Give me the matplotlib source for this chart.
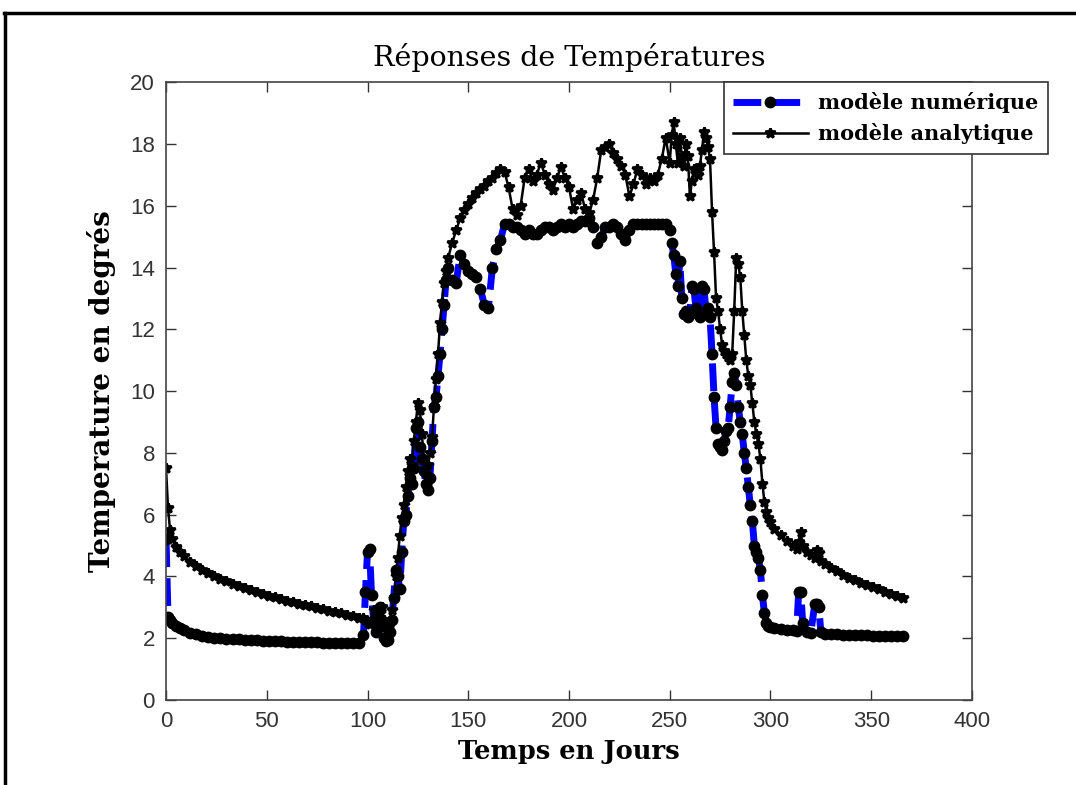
import matplotlib.pyplot as plt
from matplotlib.lines import Line2D

# jours (grille commune aux deux modeles)
days = [0, 1, 2, 3, 5, 7, 9, 12, 15, 18, 21, 24, 27, 30, 33, 36, 39, 42, 45, 48,
        51, 54, 57, 60, 63, 66, 69, 72, 75, 78, 81, 84, 87, 90, 93, 96,
        98, 99, 100, 101, 102, 103, 104, 105, 106, 107, 108, 109, 110, 111, 112,
        113, 114, 115, 116, 117, 118, 119, 120, 121, 122, 123, 124, 125, 126,
        127, 128, 129, 130, 131, 132, 133, 134, 135, 136, 137, 138, 139, 140,
        142, 144, 146, 148, 150, 152, 154, 156, 158, 160, 162, 164, 166, 168,
        170, 172, 174, 176, 178, 180, 182, 184, 186, 188, 190, 192, 194, 196,
        198, 200, 202, 204, 206, 208, 210, 212, 214, 216, 218, 220, 222, 224,
        226, 228, 230, 232, 234, 236, 238, 240, 242, 244, 246, 248, 250,
        251, 252, 253, 254, 255, 256, 257, 258, 259, 260, 261, 262, 263, 264,
        265, 266, 267, 268, 269, 270, 271, 272, 273, 274, 275, 276, 277, 278,
        279, 280, 281, 282, 283, 284, 285, 286, 287, 288, 289, 290, 291, 292,
        293, 294, 295, 296, 297, 298, 299, 300,
        302, 305, 308, 311, 313, 314, 315, 316, 318, 320, 322, 323, 324, 325,
        327, 330, 333, 336, 339, 342, 345, 348, 351, 354, 357, 360, 363, 366]

temp_num = [5.2, 2.7, 2.6, 2.5, 2.4, 2.32, 2.25, 2.18, 2.12, 2.08, 2.05, 2.02, 2.0, 1.98, 1.97, 1.96, 1.95, 1.94, 1.93, 1.92,
            1.91, 1.9, 1.9, 1.89, 1.89, 1.88, 1.88, 1.87, 1.87, 1.86, 1.86, 1.85, 1.85, 1.85, 1.85, 1.86,
            2.1, 3.5, 4.8, 4.9, 3.4, 2.6, 2.2, 2.9, 3.0, 2.4, 2.0, 1.9, 1.95, 2.2, 2.6,
            3.3, 4.2, 4.0, 3.6, 4.8, 5.8, 6.0, 6.6, 7.2, 7.0, 7.5, 8.8, 9.0, 8.2,
            7.8, 7.4, 7.0, 6.8, 7.2, 8.4, 9.5, 9.8, 10.5, 11.2, 12.0, 12.8, 13.6, 14.0,
            13.6, 13.5, 14.4, 14.1, 13.9, 13.8, 13.7, 13.3, 12.8, 12.7, 14.0, 14.6, 14.9, 15.4,
            15.4, 15.3, 15.3, 15.2, 15.1, 15.2, 15.1, 15.1, 15.2, 15.3, 15.3, 15.2, 15.3, 15.4,
            15.3, 15.4, 15.3, 15.4, 15.5, 15.5, 15.6, 15.3, 14.8, 15.0, 15.3, 15.3, 15.4, 15.3,
            15.1, 14.9, 15.2, 15.4, 15.4, 15.4, 15.4, 15.4, 15.4, 15.4, 15.4, 15.4, 15.2,
            14.8, 14.4, 13.8, 13.4, 14.2, 13.0, 12.5, 12.6, 12.4, 12.5, 13.4, 13.3, 12.7, 12.5,
            12.4, 13.4, 13.3, 12.6, 12.7, 12.4, 11.2, 9.8, 8.8, 8.3, 8.2, 8.1, 8.4, 8.7,
            8.8, 9.5, 10.3, 10.6, 10.2, 9.5, 9.0, 8.6, 8.0, 7.5, 6.9, 6.3, 5.8, 5.0,
            4.8, 4.6, 4.2, 3.4, 2.8, 2.5, 2.4, 2.35,
            2.32, 2.3, 2.28, 2.25, 2.24, 3.5, 3.5, 2.5, 2.2, 2.18, 3.1, 3.1, 3.0, 2.2,
            2.15, 2.13, 2.12, 2.11, 2.1, 2.1, 2.09, 2.09, 2.08, 2.08, 2.07, 2.07, 2.07, 2.07]

temp_ana = [7.5, 6.2, 5.5, 5.2, 4.95, 4.8, 4.65, 4.48, 4.33, 4.2, 4.1, 4.0, 3.92, 3.84, 3.76, 3.69, 3.62, 3.56, 3.5, 3.44,
            3.38, 3.33, 3.27, 3.22, 3.17, 3.12, 3.07, 3.03, 2.98, 2.93, 2.89, 2.84, 2.8, 2.75, 2.71, 2.67,
            2.65, 2.6, 2.5, 2.45, 2.6, 2.9, 2.7, 2.5, 2.8, 3.0, 2.6, 2.4, 2.3, 2.5, 2.9,
            3.3, 4.0, 4.6, 5.3, 5.9, 6.3, 6.9, 7.4, 7.8, 7.6, 8.4, 9.0, 9.6, 9.4,
            8.6, 7.8, 7.3, 7.6, 8.0, 8.5, 9.5, 10.4, 11.2, 12.2, 12.9, 13.5, 13.9, 14.3,
            14.8, 15.2, 15.6, 15.85, 16.05, 16.25, 16.4, 16.55, 16.65, 16.8, 16.9, 17.05, 17.2, 17.1,
            16.6, 15.9, 15.7, 16.0, 16.9, 17.2, 16.8, 17.0, 17.4, 17.0, 16.7, 16.5, 16.9, 17.25,
            16.9, 16.6, 15.9, 16.2, 16.4, 15.9, 15.75, 16.2, 16.9, 17.8, 17.9, 18.0, 17.7, 17.5,
            17.3, 17.0, 16.3, 16.7, 17.2, 17.0, 16.7, 16.9, 16.8, 17.0, 17.5, 18.2, 17.4,
            18.3, 18.7, 18.0, 17.4, 18.2, 17.6, 17.3, 18.0, 17.6, 16.3, 16.8, 17.2, 17.1, 17.0,
            17.3, 17.8, 18.4, 18.2, 17.9, 17.5, 15.8, 14.5, 13.0, 12.6, 12.0, 11.5, 11.3, 11.2,
            11.1, 11.0, 11.2, 12.6, 14.3, 14.1, 13.7, 12.6, 11.8, 11.0, 10.5, 10.2, 9.6, 9.0,
            8.6, 8.3, 7.8, 7.0, 6.4, 6.1, 5.9, 5.75,
            5.55, 5.35, 5.15, 5.0, 4.9, 5.1, 5.45, 5.0, 4.8, 4.7, 4.6, 4.85, 4.75, 4.5,
            4.4, 4.28, 4.16, 4.05, 3.95, 3.87, 3.8, 3.72, 3.65, 3.58, 3.5, 3.44, 3.37, 3.3]

xticks = [0, 50, 100, 150, 200, 250, 300, 350, 400]
yticks = [0, 2, 4, 6, 8, 10, 12, 14, 16, 18, 20]

serif = ["DejaVu Serif"]
tickfont = ["Liberation Sans Narrow", "DejaVu Sans Condensed", "Liberation Sans"]

fig = plt.figure(figsize=(10.76, 7.85), dpi=100)
ax = fig.add_axes([0.1543, 0.1083, 0.749, 0.787])

ax.plot(days, temp_num, color="blue", linestyle="--", dashes=(4, 1.6), lw=5,
        marker="o", ms=7.5, mfc="black", mec="black", label="modèle numérique")
ax.plot(days, temp_ana, color="black", lw=1.8,
        marker="*", ms=7, mew=2, mfc="black", mec="black", label="modèle analytique")

ax.set_xlim(0, 400)
ax.set_ylim(0, 20)
ax.set_xticks(xticks)
ax.set_yticks(yticks)
ax.tick_params(direction="in", length=7, width=1, top=True, right=True,
               colors="#333333", labelcolor="#333333", pad=8)
for lab in ax.get_xticklabels() + ax.get_yticklabels():
    lab.set_family(tickfont)
    lab.set_fontsize(16)
for s in ax.spines.values():
    s.set_color("#444444")
    s.set_linewidth(1.2)

ax.set_title("Réponses de Températures", family=serif, fontsize=20.5, pad=12)
ax.set_xlabel("Temps en Jours", family=serif, fontsize=18.5, fontweight="bold", labelpad=5)
ax.set_ylabel("Temperature en degrés", family=serif, fontsize=20, fontweight="bold", labelpad=10)

leg = fig.legend(loc="upper right", bbox_to_anchor=(0.974, 0.895),
                 prop={"family": serif, "weight": "bold", "size": 15},
                 fancybox=False, edgecolor="#333333", framealpha=1,
                 handlelength=3.6, borderpad=0.45, labelspacing=0.5,
                 handletextpad=0.5, borderaxespad=0)
leg.get_frame().set_linewidth(1.2)

# cadre de la figure (haut et gauche)
fig.add_artist(Line2D([0.004, 1.0], [0.984, 0.984], color="black", lw=2.5))
fig.add_artist(Line2D([0.005, 0.005], [0.0, 0.984], color="black", lw=2.5))

fig.savefig("out.png", dpi=100)
